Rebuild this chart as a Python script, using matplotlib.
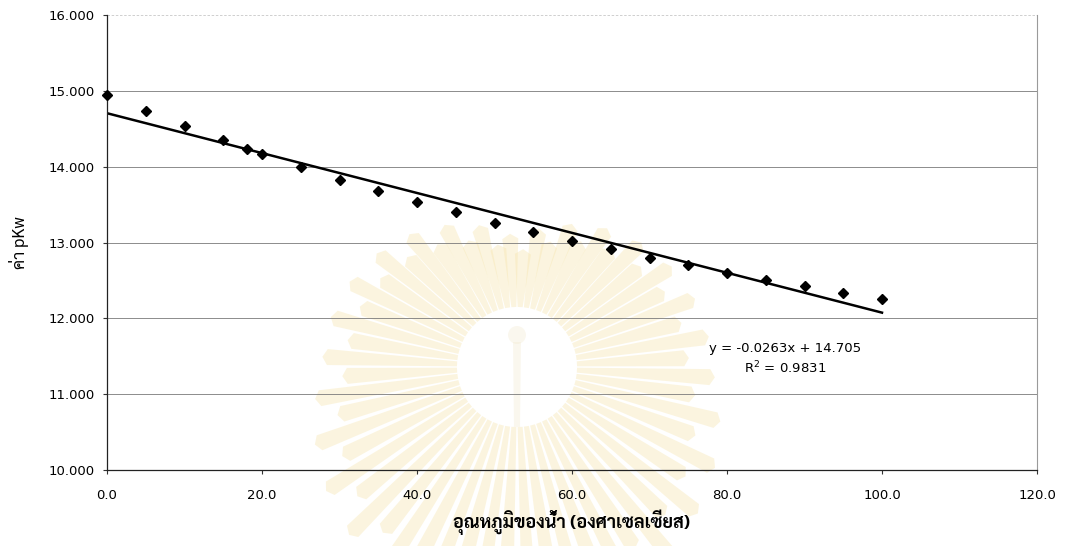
import matplotlib.pyplot as plt
import numpy as np
from matplotlib import font_manager
from matplotlib.patches import Polygon, Circle

# water temperature (deg C) and pKw
temps = [0, 5, 10, 15, 18, 20, 25, 30, 35, 40, 45, 50, 55, 60, 65, 70, 75, 80, 85, 90, 95, 100]
pkw = [14.94, 14.73, 14.53, 14.35, 14.23, 14.17, 14.00, 13.83, 13.68, 13.53, 13.40, 13.26,
       13.14, 13.02, 12.91, 12.80, 12.70, 12.60, 12.51, 12.42, 12.34, 12.25]

# trendline as given by the fit
slope = -0.0263
intercept = 14.705
r2 = 0.9831

x_ticks = [0, 20, 40, 60, 80, 100, 120]
y_ticks = [10, 11, 12, 13, 14, 15, 16]
x_label = "อุณหภูมิของน้ำ (องศาเซลเซียส)"
y_label = "ค่า pKw"

available = {f.name for f in font_manager.fontManager.ttflist}
thai = next((n for n in ["Sarabun", "Noto Sans Thai", "Loma"] if n in available), "DejaVu Sans")

W, H = 1075, 546
fig = plt.figure(figsize=(W / 100, H / 100), dpi=100)

# faint sunburst seal printed behind the chart
bg = fig.add_axes([0, 0, 1, 1], zorder=0)
bg.set_xlim(0, W)
bg.set_ylim(H, 0)
bg.axis("off")
cx, cy = 517, 367
n_rays = 60
for i in range(n_rays):
    a = 2 * np.pi * (i + 0.5) / n_rays
    d = np.array([np.cos(a), np.sin(a)])
    n = np.array([-d[1], d[0]])
    if d[1] < 0:
        # upper half: short at the top, longer towards the sides
        r_out = 125 + 65 * abs(d[0])
    else:
        r_out = 190 + 60 * d[1]
    if i % 2:
        r_out *= 0.88
    r_in = 60
    c = np.array([cx, cy])
    pts = [c + d * r_in + n * 2.5,
           c + d * r_out + n * 8,
           c + d * (r_out + 5),
           c + d * r_out - n * 8,
           c + d * r_in - n * 2.5]
    bg.add_patch(Polygon(pts, closed=True, facecolor="#f6e4ab", edgecolor="none", alpha=0.38))
bg.add_patch(Circle((cx, cy), 58, facecolor="white", edgecolor="none"))
bg.add_patch(Polygon([(cx - 4, cy - 25), (cx + 4, cy - 25), (cx + 3, cy + 60), (cx - 3, cy + 60)],
                     closed=True, facecolor="#f3ead0", edgecolor="none", alpha=0.35))
bg.add_patch(Circle((cx, cy - 32), 9, facecolor="#f3ead0", edgecolor="none", alpha=0.35))

ax = fig.add_axes([107 / W, 1 - 470 / H, 930 / W, 455 / H], zorder=1)
ax.patch.set_alpha(0)

ax.set_xlim(0, 120)
ax.set_ylim(10, 16)
ax.set_xticks(x_ticks)
ax.set_yticks(y_ticks)
ax.set_xticklabels([f"{v:.1f}" for v in x_ticks], fontsize=9.5)
ax.set_yticklabels([f"{v:.3f}" for v in y_ticks], fontsize=9.5)
ax.tick_params(axis="both", direction="out", length=3, width=0.8, color="#333333")
ax.tick_params(axis="y", pad=6)
ax.tick_params(axis="x", pad=11)

ax.grid(axis="y", color="#7a7a7a", linestyle="-", linewidth=0.6)
ax.yaxis.get_gridlines()[-1].set_color("#c8c8c8")
ax.yaxis.get_gridlines()[-1].set_linestyle((0, (3, 2)))
ax.set_axisbelow(True)
for side in ["left", "bottom"]:
    ax.spines[side].set_color("#222222")
    ax.spines[side].set_linewidth(0.9)
ax.spines["top"].set_visible(False)
ax.spines["right"].set_color("#9a9a9a")
ax.spines["right"].set_linestyle((0, (2, 1)))
ax.spines["right"].set_linewidth(0.8)

ax.plot(temps, pkw, linestyle="none", marker="D", markersize=5, color="black", zorder=3,
        clip_on=False)

fit_x = np.array([temps[0], temps[-1]])
ax.plot(fit_x, slope * fit_x + intercept, color="black", linewidth=1.8, zorder=2)

ax.text(87.5, 11.46, f"y = {slope}x + {intercept}\nR$^2$ = {r2}", ha="center", va="center",
        fontsize=9.5, linespacing=1.35, multialignment="center")

ax.set_xlabel(x_label, family=[thai, "DejaVu Sans"], fontweight="bold", fontsize=13, labelpad=5)
ax.set_ylabel(y_label, family=[thai, "DejaVu Sans"], fontsize=12, labelpad=14)

fig.savefig("out.png", dpi=100)
